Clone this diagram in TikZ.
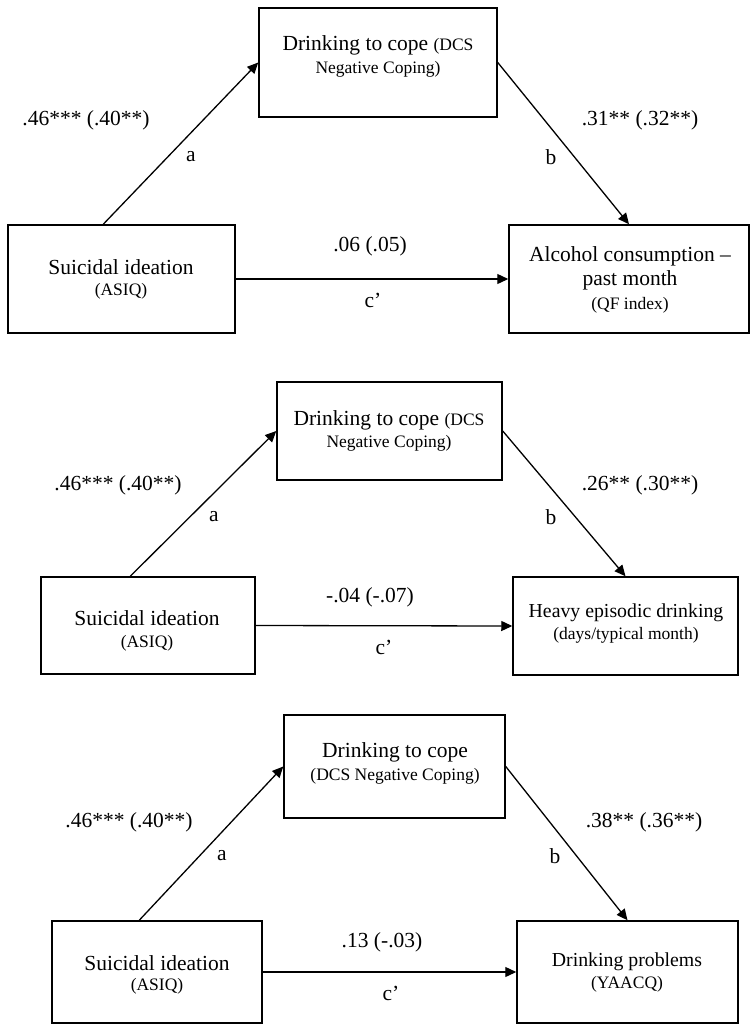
\documentclass[tikz,border=0pt]{standalone}
\usepackage{fontspec}
\setmainfont{Liberation Serif}
\usetikzlibrary{arrows.meta}
\tikzset{
  box/.style={draw, line width=1.5pt, rectangle, inner sep=0pt},
  big/.style={font=\fontsize{21.5}{24}\selectfont, inner sep=0pt},
  mid/.style={font=\fontsize{19.8}{23}\selectfont, inner sep=0pt},
  small/.style={font=\fontsize{17.5}{20}\selectfont, inner sep=0pt},
  conn/.style={line width=1.3pt, -{Triangle[length=11pt,width=10pt]}},
  lab/.style={font=\fontsize{21.5}{24}\selectfont, inner sep=0pt}
}
\newcommand{\sm}{\fontsize{17.5}{20}\selectfont}
\begin{document}
\begin{tikzpicture}[x=1pt,y=-1pt]
\useasboundingbox (0,0) rectangle (754,1033);
\fill[white] (0,0) rectangle (754,1033);

% ---------- Panel 1 ----------
\node[box, minimum width=238pt, minimum height=109pt] (T1) at (378,62.5) {};
\node[box, minimum width=227pt, minimum height=108pt] (L1) at (121.5,279) {};
\node[box, minimum width=240pt, minimum height=108pt] (R1) at (629,279) {};
\node[big] (t1a) at (378,45) {Drinking to cope {\sm(DCS}};
\node[small] (t1b) at (378,69) {Negative Coping)};
\node[big] (l1a) at (121,267) {Suicidal ideation};
\node[small] (l1b) at (121,291) {(ASIQ)};
\node[big] (r1a) at (630,256) {Alcohol consumption –};
\node[big] (r1b) at (630,280) {past month};
\node[small] (r1c) at (630,305) {(QF index)};
\draw[conn] ([xshift=96pt]L1.north west) -- (T1.west);
\draw[conn] (T1.east) -- (R1.north);
\draw[conn] (L1.east) -- (R1.west);
\node[lab] (p1a) at (86,120) {.46*** (.40**)};
\node[lab] (a1) at (191,157) {a};
\node[lab] (p1b) at (640,120) {.31** (.32**)};
\node[lab] (b1) at (551,157) {b};
\node[lab] (p1c) at (370,246) {.06 (.05)};
\node[lab] (c1) at (373,300) {c’};

% ---------- Panel 2 ----------
\node[box, minimum width=225pt, minimum height=98pt] (T2) at (389.5,431) {};
\node[box, minimum width=214pt, minimum height=97pt] (L2) at (148,625.5) {};
\node[box, minimum width=225pt, minimum height=98pt] (R2) at (625.5,626) {};
\node[big] (t2a) at (389,420) {Drinking to cope {\sm(DCS}};
\node[small] (t2b) at (389,443) {Negative Coping)};
\node[big] (l2a) at (147,618) {Suicidal ideation};
\node[small] (l2b) at (147,643) {(ASIQ)};
\node[mid] (r2a) at (626,613) {Heavy episodic drinking};
\node[small] (r2b) at (626,635) {(days/typical month)};
\draw[conn] ([xshift=90pt]L2.north west) -- (T2.west);
\draw[conn] (T2.east) -- (R2.north);
\draw[conn] (L2.east) -- (R2.west);
\node[lab] (p2a) at (118,485) {.46*** (.40**)};
\node[lab] (a2) at (214,517) {a};
\node[lab] (p2b) at (640,485) {.26** (.30**)};
\node[lab] (b2) at (551,517) {b};
\node[lab] (p2c) at (370,597) {-.04 (-.07)};
\node[lab] (c2) at (384,647) {c’};

% ---------- Panel 3 ----------
\node[box, minimum width=221pt, minimum height=103pt] (T3) at (394.5,766.5) {};
\node[box, minimum width=210pt, minimum height=102pt] (L3) at (157,972) {};
\node[box, minimum width=221pt, minimum height=102pt] (R3) at (627.5,972) {};
\node[big] (t3a) at (395,752) {Drinking to cope};
\node[small] (t3b) at (395,776) {(DCS Negative Coping)};
\node[big] (l3a) at (157,963) {Suicidal ideation};
\node[small] (l3b) at (157,986) {(ASIQ)};
\node[mid] (r3a) at (627,962) {Drinking problems};
\node[small] (r3b) at (627,984) {(YAACQ)};
\draw[conn] ([xshift=88pt]L3.north west) -- (T3.west);
\draw[conn] (T3.east) -- (R3.north);
\draw[conn] (L3.east) -- (R3.west);
\node[lab] (p3a) at (129,822) {.46*** (.40**)};
\node[lab] (a3) at (222,856) {a};
\node[lab] (p3b) at (644,822) {.38** (.36**)};
\node[lab] (b3) at (555,856) {b};
\node[lab] (p3c) at (382,942) {.13 (-.03)};
\node[lab] (c3) at (391,993) {c’};
\end{tikzpicture}
\end{document}
